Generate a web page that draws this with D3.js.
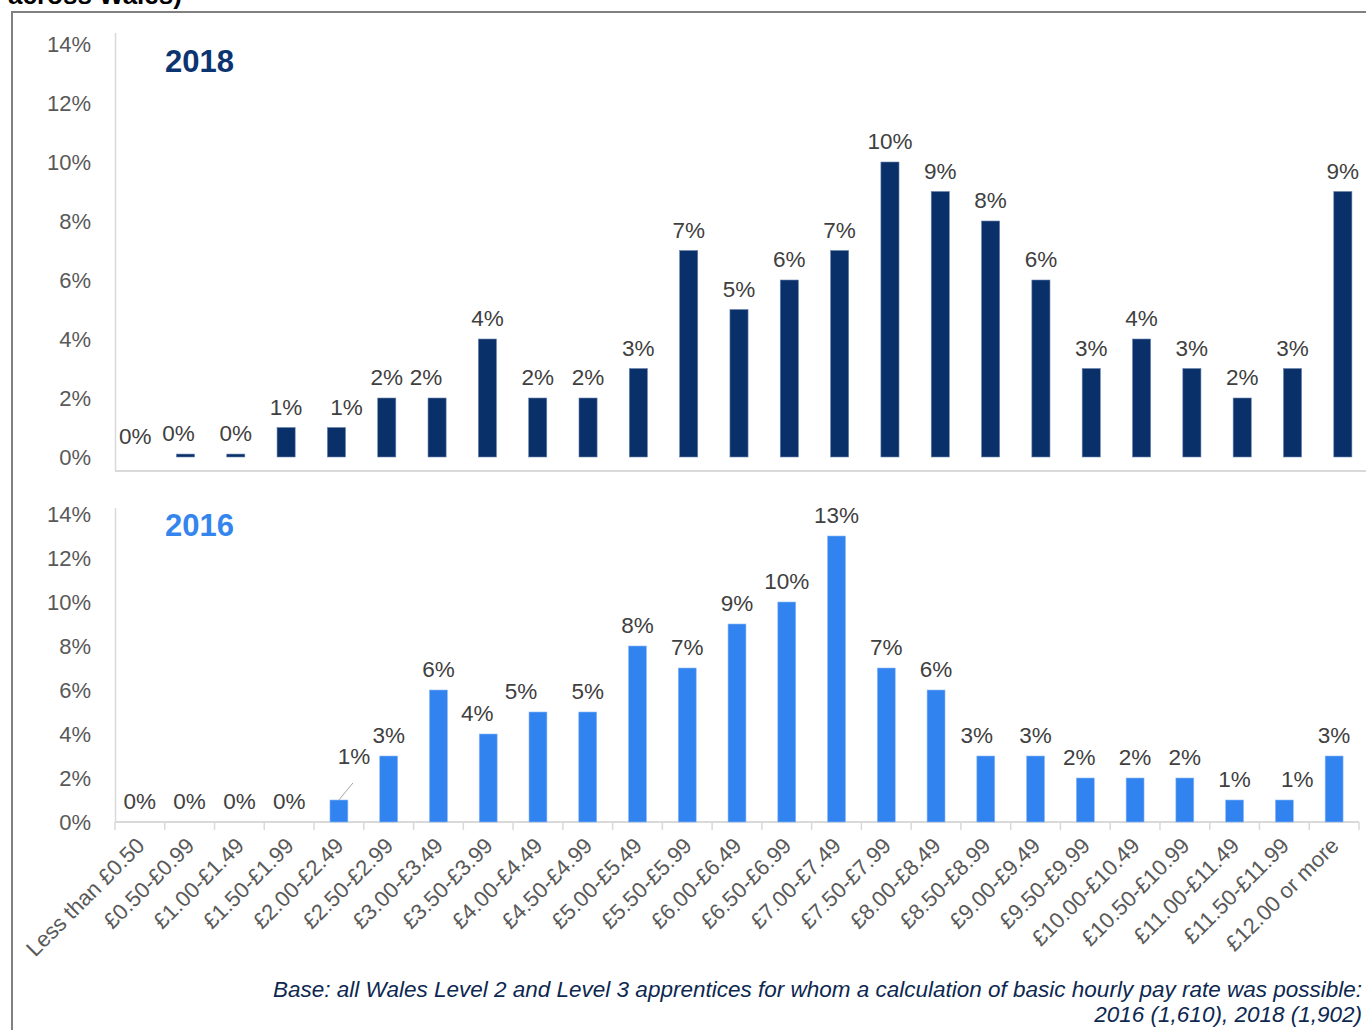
<!DOCTYPE html>
<html>
<head>
<meta charset="utf-8">
<script src="https://cdn.jsdelivr.net/npm/d3@7"></script>
<style>
  body { margin: 0; background: #fff; }
  text { font-family: "Liberation Sans", Arial, sans-serif; }
</style>
</head>
<body>
<div id="chart"></div>
<script>
// Data
var categories = [ 'Less than £0.50', '£0.50-£0.99', '£1.00-£1.49', '£1.50-£1.99', '£2.00-£2.49',
    '£2.50-£2.99', '£3.00-£3.49', '£3.50-£3.99', '£4.00-£4.49', '£4.50-£4.99', '£5.00-£5.49',
    '£5.50-£5.99', '£6.00-£6.49', '£6.50-£6.99', '£7.00-£7.49', '£7.50-£7.99', '£8.00-£8.49',
    '£8.50-£8.99', '£9.00-£9.49', '£9.50-£9.99', '£10.00-£10.49', '£10.50-£10.99',
    '£11.00-£11.49', '£11.50-£11.99', '£12.00 or more' ];
var values_2018 = [ 0, 0.1, 0.1, 1, 1, 2, 2, 4, 2, 2, 3, 7, 5, 6, 7, 10, 9, 8, 6, 3, 4, 3, 2, 3, 9 ];
var values_2016 = [ 0, 0, 0, 0, 1, 3, 6, 4, 5, 5, 8, 7, 9, 10, 13, 7, 6, 3, 3, 2, 2, 2, 1, 1, 3 ];
var y_ticks     = [ 0, 2, 4, 6, 8, 10, 12, 14 ];

var chart_width  = 1366;
var chart_height = 1030;

var svg = d3.select('#chart')
    .append('svg')
    .attr('width', chart_width)
    .attr('height', chart_height);

// cut-off title (the reference crops it at the top) and frame
svg.append('text')
    .attr('x', 8)
    .attr('y', 4)
    .attr('font-size', 26)
    .attr('font-weight', 'bold')
    .attr('fill', '#000')
    .text('across Wales)');

svg.append('path')
    .attr('d', 'M12,1030 V12 H1366')
    .attr('fill', 'none')
    .attr('stroke', '#808080')
    .attr('stroke-width', 2);

// label nudges where Excel moved labels sideways
var nudge_2018 = { 1: -7, 4: 10, 6: -11 };
var nudge_2016 = { 7: -11, 8: -17, 17: -9, 19: -6, 23: 13 };

function panel(opts) {
    var x = d3.scaleBand()
        .domain(categories)
        .range(opts.xrange)
        .paddingInner(0.64)
        .paddingOuter(0.32);

    var y = d3.scaleLinear()
        .domain([0, 14])
        .range([opts.y0, opts.y14]);

    var g = svg.append('g');

    // y tick labels
    g.selectAll('text.ytick')
        .data(y_ticks)
        .enter()
        .append('text')
        .attr('class', 'ytick')
        .attr('x', 91)
        .attr('y', function(d){ return y(d); })
        .attr('dy', '0.36em')
        .attr('text-anchor', 'end')
        .attr('font-size', 22)
        .attr('fill', '#595959')
        .text(function(d){ return d + '%'; });

    // axis lines
    g.append('line')
        .attr('x1', 115.5).attr('x2', 115.5)
        .attr('y1', opts.axisTop).attr('y2', opts.axisBottom)
        .attr('stroke', '#d9d9d9').attr('stroke-width', 1.5);
    g.append('line')
        .attr('x1', 115).attr('x2', opts.baseRight)
        .attr('y1', opts.axisBottom).attr('y2', opts.axisBottom)
        .attr('stroke', '#d9d9d9').attr('stroke-width', 2);

    // bars
    g.selectAll('rect.bar')
        .data(opts.values)
        .enter()
        .append('rect')
        .attr('class', 'bar')
        .attr('x', function(d, i){ return x(categories[i]); })
        .attr('width', x.bandwidth())
        .attr('y', function(d){ return y(d); })
        .attr('height', function(d){ return y(0) - y(d); })
        .attr('fill', opts.color)
        .attr('stroke', opts.edge)
        .attr('stroke-width', 0.6);

    // value labels
    g.selectAll('text.val')
        .data(opts.values)
        .enter()
        .append('text')
        .attr('class', 'val')
        .attr('x', function(d, i){
            return x(categories[i]) + x.bandwidth() / 2 + (opts.nudge[i] || 0) + (i === opts.leader ? 15 : 0);
        })
        .attr('y', function(d, i){
            return y(d) - 13 - (i === opts.leader ? 23 : 0);
        })
        .attr('text-anchor', 'middle')
        .attr('font-size', 22.5)
        .attr('fill', '#404040')
        .text(function(d){ return Math.round(d) + '%'; });

    if (opts.leader != null) {
        var lx = x(categories[opts.leader]) + x.bandwidth() / 2;
        var ly = y(opts.values[opts.leader]);
        g.append('line')
            .attr('x1', lx).attr('y1', ly)
            .attr('x2', lx + 14).attr('y2', ly - 17)
            .attr('stroke', '#a6a6a6').attr('stroke-width', 1);
    }

    // year title
    g.append('text')
        .attr('x', 165)
        .attr('y', opts.titleY)
        .attr('font-family', '"Open Sans", sans-serif')
        .attr('font-size', 31)
        .attr('font-weight', 'bold')
        .attr('fill', opts.titleColor)
        .text(opts.title);

    return x;
}

panel({
    values: values_2018, xrange: [110, 1368], y0: 457, y14: 44,
    axisTop: 33, axisBottom: 471, baseRight: 1366,
    color: '#0a3069', edge: '#6b86b0', nudge: nudge_2018, leader: null,
    title: '2018', titleColor: '#0c3470', titleY: 72
});

var x16 = panel({
    values: values_2016, xrange: [115, 1359], y0: 822, y14: 514,
    axisTop: 508, axisBottom: 822, baseRight: 1359,
    color: '#3183f0', edge: '#8fb8f5', nudge: nudge_2016, leader: 4,
    title: '2016', titleColor: '#3585ee', titleY: 536
});

// bottom axis ticks and category labels
var step = x16.step();
var boundaries = d3.range(categories.length + 1).map(function(i){ return 115 + i * step; });
svg.selectAll('line.xtick')
    .data(boundaries)
    .enter()
    .append('line')
    .attr('class', 'xtick')
    .attr('x1', function(d){ return d; }).attr('x2', function(d){ return d; })
    .attr('y1', 822).attr('y2', 830)
    .attr('stroke', '#d9d9d9').attr('stroke-width', 1.5);

svg.selectAll('text.xlab')
    .data(categories)
    .enter()
    .append('text')
    .attr('class', 'xlab')
    .attr('transform', function(d){
        var cx = x16(d) + x16.bandwidth() / 2;
        return 'translate(' + (cx + 6) + ',' + 847 + ') rotate(-45)';
    })
    .attr('text-anchor', 'end')
    .attr('font-size', 22)
    .attr('fill', '#595959')
    .text(function(d){ return d; });

// footnote
var foot = svg.append('text')
    .attr('text-anchor', 'end')
    .attr('font-size', 22.5)
    .attr('font-style', 'italic')
    .attr('fill', '#0d2850');
foot.append('tspan').attr('x', 1362).attr('y', 997)
    .text('Base: all Wales Level 2 and Level 3 apprentices for whom a calculation of basic hourly pay rate was possible:');
foot.append('tspan').attr('x', 1362).attr('y', 1022)
    .text('2016 (1,610), 2018 (1,902)');
</script>
</body>
</html>
